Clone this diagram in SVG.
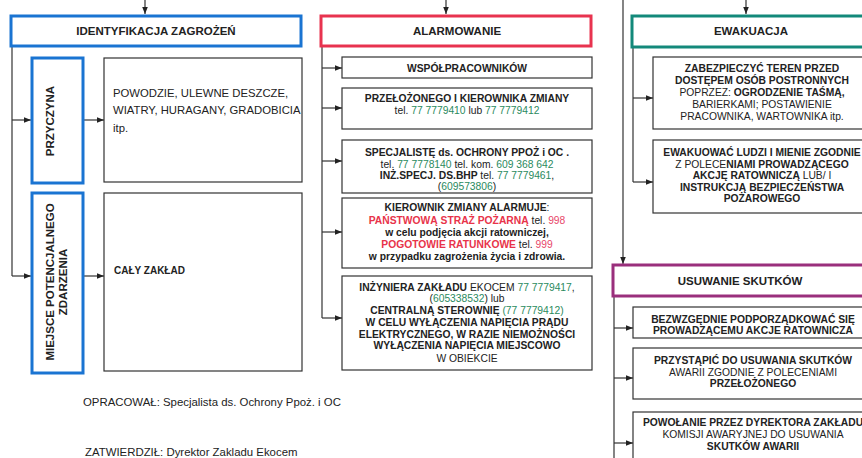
<svg xmlns="http://www.w3.org/2000/svg" width="862" height="458" viewBox="0 0 862 458">
<defs>
<marker id="ah" viewBox="0 0 10 10" refX="10" refY="5" markerWidth="7" markerHeight="7" orient="auto" markerUnits="userSpaceOnUse">
<path d="M0,1 L10,5 L0,9 z" fill="#222"/>
</marker>
<style>
text{font-family:"Liberation Sans",Arial,sans-serif;fill:#222}
.t{font-size:11.5px;font-weight:bold;text-anchor:middle}
.b{font-size:10.3px;font-weight:bold;text-anchor:middle}
.n{font-weight:normal}
.g{fill:#2a8a5e;font-weight:normal}
.r{fill:#e8334a}
.rn{fill:#e8476a;font-weight:normal}
.box{fill:#fff;stroke:#333;stroke-width:1.2}
.blue{fill:#fff;stroke:#1a74d2;stroke-width:3}
.red{fill:#fff;stroke:#e8334f;stroke-width:3}
.teal{fill:#fff;stroke:#13897a;stroke-width:3}
.purp{fill:#fff;stroke:#9a2f7c;stroke-width:3}
.c{fill:none;stroke:#333;stroke-width:1.2}
.a{marker-end:url(#ah)}
</style>
</defs>
<rect width="862" height="458" fill="#fff"/>

<g id="connectors">
<line class="c a" x1="145" y1="0" x2="145" y2="14"/>
<line class="c a" x1="446" y1="0" x2="446" y2="14"/>
<line class="c a" x1="746" y1="0" x2="746" y2="14"/>
<polyline class="c" points="12,46 12,276"/>
<line class="c a" x1="12" y1="120" x2="31" y2="120"/>
<line class="c a" x1="12" y1="276" x2="31" y2="276"/>
<line class="c a" x1="84" y1="120" x2="104" y2="120"/>
<line class="c a" x1="84" y1="276" x2="104" y2="276"/>
<polyline class="c" points="322,46 322,318"/>
<line class="c a" x1="322" y1="68" x2="342" y2="68"/>
<line class="c a" x1="322" y1="108" x2="342" y2="108"/>
<line class="c a" x1="322" y1="161" x2="342" y2="161"/>
<line class="c a" x1="322" y1="232" x2="342" y2="232"/>
<line class="c a" x1="322" y1="318" x2="342" y2="318"/>
<line class="c a" x1="623" y1="0" x2="623" y2="264"/>
<polyline class="c" points="633,47 633,182"/>
<line class="c a" x1="633" y1="98" x2="653" y2="98"/>
<line class="c a" x1="633" y1="182" x2="653" y2="182"/>
<polyline class="c" points="614,297 614,458"/>
<line class="c a" x1="614" y1="328" x2="633" y2="328"/>
<line class="c a" x1="614" y1="378" x2="633" y2="378"/>
<line class="c a" x1="614" y1="443" x2="633" y2="443"/>
</g>

<g id="identyfikacja">
<rect class="blue" x="11" y="16" width="290" height="30"/>
<text class="t" x="156" y="35">IDENTYFIKACJA ZAGROŻEŃ</text>
</g>
<g id="przyczyna">
<rect class="blue" x="32" y="58" width="51" height="125" stroke-width="2.5"/>
<text class="t" font-size="11.5" transform="translate(54,121) rotate(-90)">PRZYCZYNA</text>
</g>
<g id="przyczyna-opis">
<rect class="box" x="104" y="58" width="198" height="124"/>
<text x="113" y="97" font-size="11.3">POWODZIE, ULEWNE DESZCZE,</text>
<text x="113" y="114" font-size="11.3">WIATRY, HURAGANY, GRADOBICIA</text>
<text x="113" y="132" font-size="11.3">itp.</text>
</g>
<g id="miejsce">
<rect class="blue" x="32" y="193" width="51" height="180" stroke-width="2.5"/>
<text class="t" font-size="11.2" transform="translate(54,282) rotate(-90)">MIEJSCE POTENCJALNEGO</text>
<text class="t" font-size="11.2" transform="translate(67,282) rotate(-90)">ZDARZENIA</text>
</g>
<g id="miejsce-opis">
<rect class="box" x="104" y="193" width="198" height="178"/>
<text x="114" y="274" font-size="10" font-weight="bold">CAŁY ZAKŁAD</text>
</g>

<g id="alarmowanie">
<rect class="red" x="321" y="16" width="270" height="30"/>
<text class="t" x="457" y="35">ALARMOWANIE</text>
</g>
<g id="wspolpracownikow">
<rect class="box" x="342" y="57" width="250" height="21"/>
<text class="b" x="467" y="71.5">WSPÓŁPRACOWNIKÓW</text>
</g>
<g id="przelozonego">
<rect class="box" x="342" y="88" width="250" height="41"/>
<text class="b" x="467" y="102">PRZEŁOŻONEGO I KIEROWNIKA ZMIANY</text>
<text class="b n" x="467" y="114">tel. <tspan class="g">77 7779410</tspan> lub <tspan class="g">77 7779412</tspan></text>
</g>
<g id="specjaliste">
<rect class="box" x="342" y="140" width="250" height="53"/>
<text class="b" x="467" y="156">SPECJALISTĘ ds. OCHRONY PPOŻ i OC .</text>
<text class="b n" x="467" y="167.5">tel. <tspan class="g">77 7778140</tspan> tel. kom. <tspan class="g">609 368 642</tspan></text>
<text class="b" x="467" y="178.5">INŻ.SPECJ. DS.BHP <tspan class="n">tel.</tspan>  <tspan class="g">77 7779461</tspan><tspan class="n">,</tspan></text>
<text class="b n" x="467" y="190">(<tspan class="g">609573806</tspan>)</text>
</g>
<g id="kierownik">
<rect class="box" x="342" y="198" width="250" height="70"/>
<text class="b" x="467" y="211">KIEROWNIK ZMIANY ALARMUJE<tspan class="n">:</tspan></text>
<text class="b" x="467" y="223.5"><tspan class="r">PAŃSTWOWĄ STRAŻ POŻARNĄ</tspan><tspan class="n"> tel.  </tspan><tspan class="rn">998</tspan></text>
<text class="b" x="467" y="235.5">w celu podjęcia akcji ratowniczej,</text>
<text class="b" x="467" y="248"><tspan class="r">POGOTOWIE RATUNKOWE</tspan><tspan class="n"> tel.  </tspan><tspan class="rn">999</tspan></text>
<text class="b" x="467" y="260">w przypadku zagrożenia życia i zdrowia.</text>
</g>
<g id="inzyniera">
<rect class="box" x="342" y="276" width="250" height="94"/>
<text class="b" x="467" y="290.5">INŻYNIERA ZAKŁADU<tspan class="n"> EKOCEM  </tspan><tspan class="g">77 7779417</tspan><tspan class="n">,</tspan></text>
<text class="b n" x="467" y="302">(<tspan class="g">605338532</tspan>) lub</text>
<text class="b" x="467" y="314">CENTRALNĄ STEROWNIĘ <tspan class="g">(77 7779412)</tspan></text>
<text class="b" x="467" y="326">W CELU WYŁĄCZENIA NAPIĘCIA PRĄDU</text>
<text class="b" x="467" y="337.5">ELEKTRYCZNEGO, W RAZIE NIEMOŻNOŚCI</text>
<text class="b" x="467" y="349">WYŁĄCZENIA NAPIĘCIA MIEJSCOWO</text>
<text class="b n" x="467" y="361.5">W OBIEKCIE</text>
</g>

<g id="ewakuacja">
<rect class="teal" x="632" y="16" width="236" height="31"/>
<text class="t" x="751" y="35">EWAKUACJA</text>
</g>
<g id="zabezpieczyc">
<rect class="box" x="653" y="57" width="215" height="72"/>
<text class="b" x="762" y="72">ZABEZPIECZYĆ TEREN PRZED</text>
<text class="b" x="762" y="84">DOSTĘPEM OSÓB POSTRONNYCH</text>
<text class="b" x="762" y="96"><tspan class="n">POPRZEZ: </tspan>OGRODZENIE TAŚMĄ,</text>
<text class="b n" x="762" y="108">BARIERKAMI; POSTAWIENIE</text>
<text class="b n" x="762" y="120">PRACOWNIKA, WARTOWNIKA itp.</text>
</g>
<g id="ewakuowac">
<rect class="box" x="653" y="140" width="215" height="73"/>
<text class="b" x="762" y="156">EWAKUOWAĆ LUDZI I MIENIE ZGODNIE</text>
<text class="b" x="762" y="167.5"><tspan class="n">Z POLECE</tspan>NIAMI PROWADZĄCEGO</text>
<text class="b" x="762" y="179">AKCJĘ RATOWNICZĄ<tspan class="n"> LUB/ I</tspan></text>
<text class="b" x="762" y="190.5">INSTRUKCJĄ BEZPIECZEŃSTWA</text>
<text class="b" x="762" y="202">POŻAROWEGO</text>
</g>

<g id="usuwanie">
<rect class="purp" x="613" y="265" width="255" height="31"/>
<text class="t" x="740" y="284.5">USUWANIE SKUTKÓW</text>
</g>
<g id="bezwzglednie">
<rect class="box" x="633" y="307" width="235" height="31"/>
<text class="b" x="753" y="322.5">BEZWZGĘDNIE PODPORZĄDKOWAĆ SIĘ</text>
<text class="b" x="753" y="334">PROWADZĄCEMU AKCJE RATOWNICZA</text>
</g>
<g id="przystapic">
<rect class="box" x="633" y="348" width="235" height="51"/>
<text class="b" x="753" y="363.5">PRZYSTĄPIĆ DO USUWANIA SKUTKÓW</text>
<text class="b n" x="753" y="375.5">AWARII ZGODNIE Z POLECENIAMI</text>
<text class="b" x="753" y="387">PRZEŁOŻONEGO</text>
</g>
<g id="powolanie">
<rect class="box" x="633" y="412" width="235" height="60"/>
<text class="b" x="753" y="426">POWOŁANIE PRZEZ DYREKTORA ZAKŁADU</text>
<text class="b n" x="753" y="438">KOMISJI AWARYJNEJ DO USUWANIA</text>
<text class="b" x="753" y="449.5">SKUTKÓW AWARII</text>
</g>

<g id="footer">
<text x="83" y="406" font-size="11.4">OPRACOWAŁ: Specjalista ds. Ochrony Ppoż. i OC</text>
<text x="85" y="456" font-size="11.4">ZATWIERDZIŁ: Dyrektor Zakladu Ekocem</text>
</g>
</svg>
